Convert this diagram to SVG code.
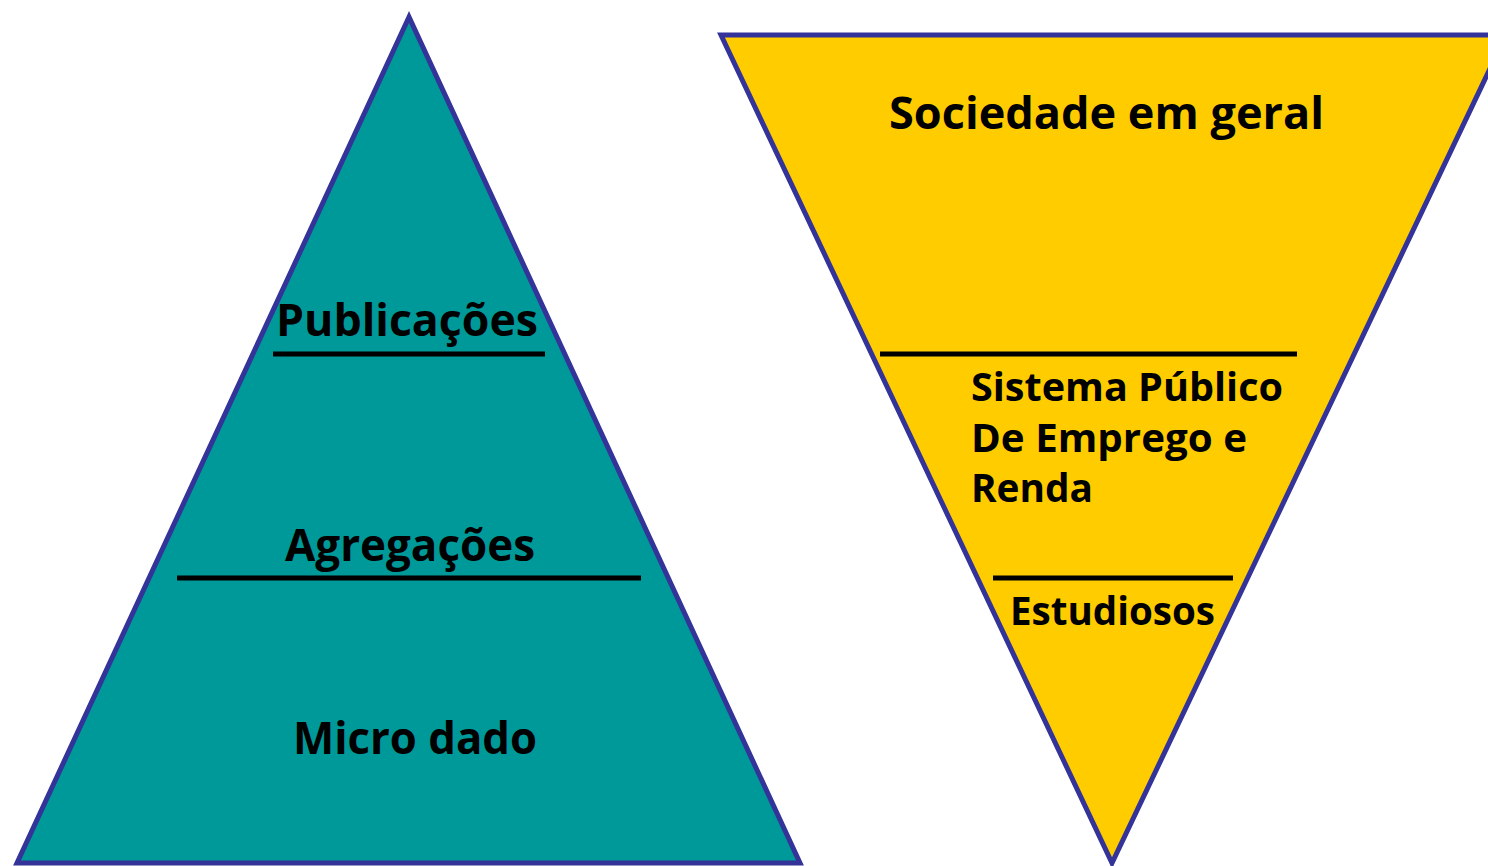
<svg xmlns="http://www.w3.org/2000/svg" width="1488" height="866" viewBox="0 0 1488 866">
<style>
.tri{stroke:#333399;stroke-width:5;stroke-linejoin:miter}
.sep{stroke:#000;stroke-width:5}
.lbl{font-family:"Open Sans","DejaVu Sans",sans-serif;font-weight:700;fill:#000}
</style>
<rect width="1488" height="866" fill="#fff"/>
<g id="pyramid">
<polygon class="tri" points="409,17 17,863 800,863" fill="#009999"/>
</g>
<g id="funnel">
<polygon class="tri" points="721,35 1506,35 1112,863" fill="#FFCC00"/>
</g>
<g id="connectors">
<line class="sep" x1="273" y1="354" x2="545" y2="354"/>
<line class="sep" x1="177" y1="578" x2="641" y2="578"/>
<line class="sep" x1="880" y1="354" x2="1297" y2="354"/>
<line class="sep" x1="993" y1="578" x2="1233" y2="578"/>
</g>
<g id="publicacoes"><text class="lbl" x="276" y="336" font-size="45" textLength="262" lengthAdjust="spacingAndGlyphs">Publicações</text></g>
<g id="agregacoes"><text class="lbl" x="285" y="561" font-size="45" textLength="250" lengthAdjust="spacingAndGlyphs">Agregações</text></g>
<g id="microdado"><text class="lbl" x="293" y="754" font-size="45" textLength="244" lengthAdjust="spacingAndGlyphs">Micro dado</text></g>
<g id="sociedade"><text class="lbl" x="889" y="129" font-size="45" textLength="435" lengthAdjust="spacingAndGlyphs">Sociedade em geral</text></g>
<g id="sistema">
<text class="lbl" x="971" y="401" font-size="40" textLength="312" lengthAdjust="spacingAndGlyphs">Sistema Público</text>
<text class="lbl" x="971" y="452" font-size="40" textLength="276" lengthAdjust="spacingAndGlyphs">De Emprego e</text>
<text class="lbl" x="971" y="502" font-size="40" textLength="122" lengthAdjust="spacingAndGlyphs">Renda</text>
</g>
<g id="estudiosos"><text class="lbl" x="1010" y="625" font-size="40" textLength="205" lengthAdjust="spacingAndGlyphs">Estudiosos</text></g>
</svg>
